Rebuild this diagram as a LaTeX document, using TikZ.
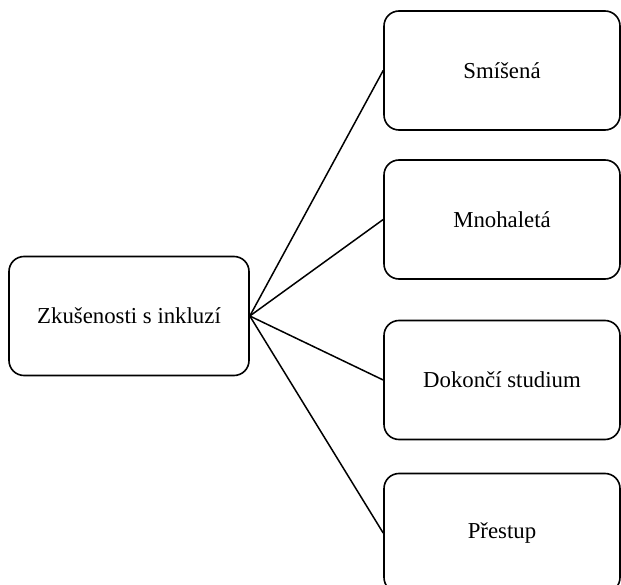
\documentclass[tikz,border=0pt]{standalone}
\usepackage{fontspec}
\setmainfont{Liberation Serif}
\begin{document}
\begin{tikzpicture}[x=1pt,y=-1pt,
  box/.style={draw=black, line width=1.6pt, rounded corners=15pt, inner sep=0pt,
    minimum height=119pt, font=\fontsize{22.8}{27}\selectfont, fill=white},
  conn/.style={draw=black, line width=1.5pt}]
\useasboundingbox (0,0) rectangle (621,585);
\clip (0,0) rectangle (621,585);
\node[box, minimum width=240pt] (root) at (129,316) {Zkušenosti s inkluzí};
\node[box, minimum width=236pt] (a) at (502,70.5) {Smíšená};
\node[box, minimum width=236pt] (b) at (502,219.5) {Mnohaletá};
\node[box, minimum width=236pt] (c) at (502,380) {Dokončí studium};
\node[box, minimum width=236pt] (d) at (502,533) {Přestup};
\draw[conn] (root.east) -- (a.west);
\draw[conn] (root.east) -- (b.west);
\draw[conn] (root.east) -- (c.west);
\draw[conn] (root.east) -- (d.west);
\end{tikzpicture}
\end{document}
